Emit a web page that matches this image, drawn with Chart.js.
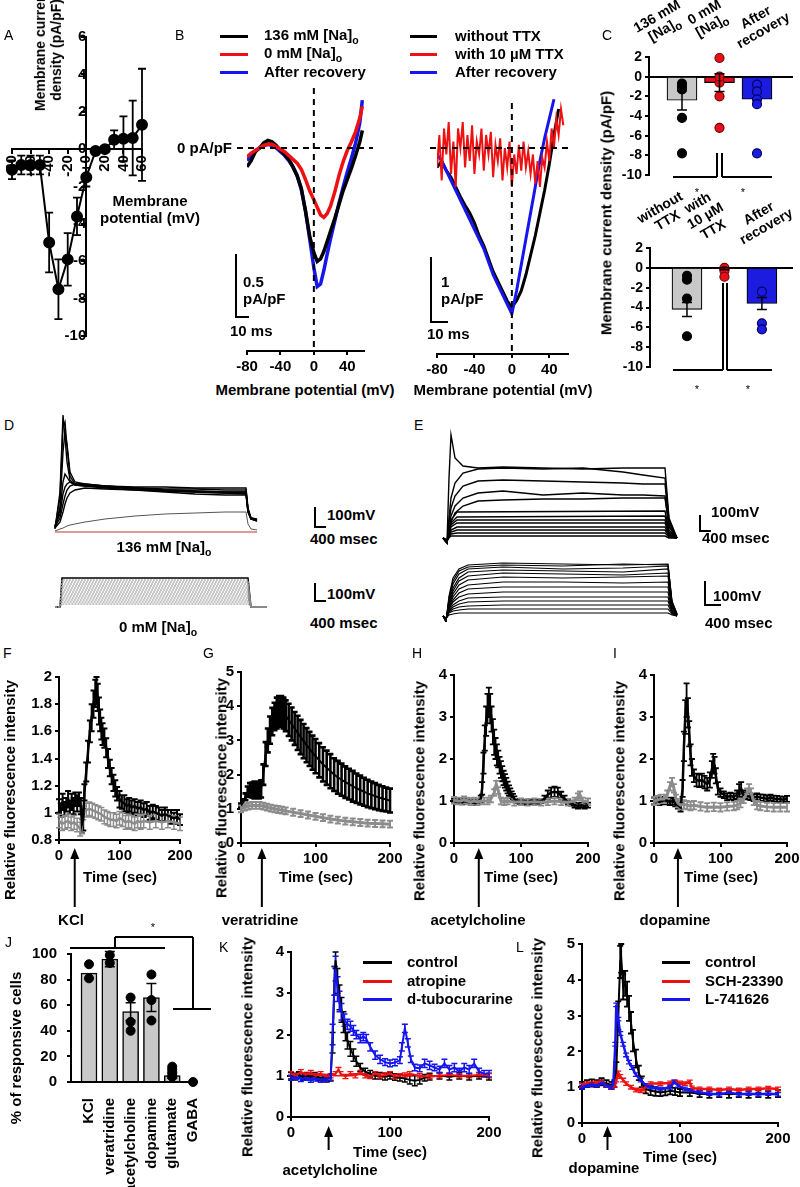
<!DOCTYPE html>
<html>
<head>
<meta charset="utf-8">
<title>Figure</title>
<script src="https://cdn.jsdelivr.net/npm/chart.js@4.4.1/dist/chart.umd.min.js"></script>
<style>
  body { margin: 0; background: #fff; }
  #fig { position: relative; width: 800px; height: 1187px; overflow: hidden; background: #fff;
         font-family: 'Liberation Sans', Arial, sans-serif; font-weight: bold; color: #000; }
  #fig canvas { position: absolute; }
  .t { position: absolute; white-space: nowrap; line-height: 1.15; }
  .t sub { font-size: 70%; }
  .ln { position: absolute; }
  .rl { position: absolute; white-space: nowrap; line-height: 1.1; text-align: center;
        font-size: 14px; transform-origin: 0 100%; transform: translate(0, -100%) rotate(-30deg); }
</style>
</head>
<body>
<div id="fig"></div>
<script>
// ---------- data ----------
// A: I-V relation
const ivV = [-80, -70, -60, -50, -40, -30, -20, -10, 0, 10, 20, 30, 40, 50, 60];
const ivMean = [-1.1, -0.85, -0.85, -0.85, -5.0, -7.5, -5.9, -3.6, -1.5, -0.1, 0.0, 0.5, 0.55, 0.6, 1.3];
const ivSem = [0.5, 0.5, 0.5, 0.5, 1.6, 1.6, 1.4, 1.0, 0.5, 0.1, 0.1, 0.5, 1.2, 2.0, 3.0];

// B: ramp currents
const bNaV = [-80, -75, -70, -65, -60, -55, -50, -45, -40, -35, -30, -25, -20, -15, -10, -5, 0, 4, 8, 12, 16, 20, 25, 30, 35, 40, 45, 50, 55, 58];
const bNa136 = [-0.15, -0.1, -0.03, 0.0, 0.04, 0.06, 0.05, 0.02, -0.02, -0.05, -0.09, -0.15, -0.22, -0.32, -0.5, -0.7, -0.83, -0.9, -0.88, -0.82, -0.74, -0.66, -0.56, -0.45, -0.34, -0.25, -0.16, -0.06, 0.05, 0.14];
const bNa0 = [-0.07, -0.04, -0.02, 0.0, 0.02, 0.03, 0.03, 0.01, -0.01, -0.03, -0.06, -0.09, -0.12, -0.17, -0.25, -0.34, -0.41, -0.47, -0.53, -0.55, -0.52, -0.46, -0.35, -0.22, -0.11, -0.02, 0.05, 0.13, 0.24, 0.33];
const bNaRec = [-0.1, -0.06, -0.02, 0.0, 0.02, 0.03, 0.02, 0.0, -0.03, -0.06, -0.1, -0.15, -0.22, -0.33, -0.5, -0.72, -0.95, -1.1, -1.08, -0.97, -0.84, -0.72, -0.58, -0.44, -0.31, -0.19, -0.08, 0.04, 0.2, 0.38];

const bTtxV = [-80, -75, -70, -65, -60, -55, -50, -45, -40, -35, -30, -25, -20, -15, -10, -5, 0, 5, 10, 15, 20, 25, 30, 35, 40, 45, 50];
const bTtxOff = [-0.3, -0.2, -0.35, -0.45, -0.6, -0.75, -0.88, -1.0, -1.15, -1.35, -1.5, -1.7, -1.9, -2.05, -2.2, -2.35, -2.45, -2.35, -2.2, -1.95, -1.65, -1.35, -1.0, -0.65, -0.25, 0.2, 0.6];
const bTtxRecV = [-80, -75, -70, -65, -60, -55, -50, -45, -40, -35, -30, -25, -20, -15, -10, -5, 0, 5, 10, 15, 20, 25, 30, 35, 40, 45];
const bTtxRec = [-0.1, -0.2, -0.35, -0.5, -0.65, -0.8, -0.95, -1.1, -1.25, -1.4, -1.55, -1.75, -1.95, -2.1, -2.25, -2.4, -2.55, -2.2, -1.8, -1.4, -1.0, -0.6, -0.2, 0.15, 0.45, 0.75];
const bTtxOnV = [-80, -77.5, -75, -72.5, -70, -67.5, -65, -62.5, -60, -57.5, -55, -52.5, -50, -47.5, -45, -42.5, -40, -37.5, -35, -32.5, -30, -27.5, -25, -22.5, -20, -17.5, -15, -12.5, -10, -7.5, -5, -2.5, 0, 2.5, 5, 7.5, 10, 12.5, 15, 17.5, 20, 22.5, 25, 27.5, 30, 32.5, 35, 37.5, 40, 42.5, 45, 47.5, 50, 52.5, 55];
const bTtxOn = [-0.3, 0.2, -0.5, 0.3, -0.1, 0.4, -0.4, 0.1, -0.6, 0.3, 0.0, 0.4, -0.3, 0.2, -0.2, 0.35, -0.4, 0.1, -0.1, 0.3, -0.35, 0.2, -0.1, 0.25, -0.45, 0.05, -0.2, 0.15, -0.5, 0.0, -0.3, 0.1, -0.6, -0.1, -0.4, 0.05, -0.35, 0.1, -0.3, -0.05, -0.4, -0.1, -0.55, -0.2, -0.6, -0.15, -0.3, 0.1, -0.2, 0.3, 0.0, 0.45, 0.2, 0.6, 0.35];

// C: peak current densities
const cNaLabels = ['136 mM<br>[Na]<sub>o</sub>', '0 mM<br>[Na]<sub>o</sub>', 'After<br>recovery'];
const cNaMean = [-2.4, -0.6, -2.3];
const cNaSem = [1.0, 0.9, 0.0];
const cNaCells = [[-0.7, -1.0, -1.3, -4.2, -7.8], [1.9, -0.6, -2.0, -5.2, 0.0], [-0.8, -1.5, -2.3, -2.8, -7.8]];
const cTtxLabels = ['without<br>TTX', 'with<br>10 µM<br>TTX', 'After<br>recovery'];
const cTtxMean = [-4.2, -0.1, -3.6];
const cTtxSem = [0.7, 0.1, 0.6];
const cTtxCells = [[-0.8, -1.2, -3.1, -6.9], [0.0, -0.3, -0.9], [-2.4, -5.6, -6.2]];

// D: voltage responses (height above baseline, arbitrary units)
const dT = [0, 5, 8, 10, 12, 15, 20, 30, 50, 80, 110, 140, 170, 191, 193, 196, 202];
const dNa136 = [
  [3, 40, 117, 95, 70, 52, 47, 46, 45, 44, 43, 43, 42, 42, 22, 13, 12],
  [4, 35, 105, 110, 85, 56, 48, 47, 46, 45, 45, 44, 44, 44, 24, 14, 13],
  [5, 25, 80, 100, 88, 60, 50, 48, 46, 44, 42, 41, 40, 40, 22, 14, 12],
  [6, 22, 50, 58, 55, 50, 47, 46, 44, 42, 40, 38, 37, 37, 20, 13, 11],
  [6, 18, 38, 45, 48, 50, 48, 47, 45, 43, 41, 40, 39, 38, 20, 13, 12],
  [5, 14, 28, 36, 42, 46, 48, 48, 46, 44, 42, 41, 40, 40, 22, 14, 12],
  [4, 10, 20, 28, 34, 39, 42, 44, 43, 42, 41, 40, 39, 39, 21, 13, 11]
];
const dNa136Slow = [1, 3, 4, 5, 6, 7, 8, 10, 13, 16, 18, 19, 20, 20, 8, 3, 2];
const dFlatT = [0, 202];
const dNa136Flat = [0, 0];
const dZeroT = [0, 5, 7, 193, 196, 212];
const dNa0 = [
  [0, 0, 29, 29, 0, 0], [0, 0, 27, 27, 0, 0], [0, 0, 25, 25, 0, 0], [0, 0, 23, 23, 0, 0],
  [0, 0, 21, 21, 0, 0], [0, 0, 19, 19, 0, 0], [0, 0, 17, 17, 0, 0], [0, 0, 15, 15, 0, 0],
  [0, 0, 13, 13, 0, 0], [0, 0, 11, 11, 0, 0], [0, 0, 9, 9, 0, 0], [0, 0, 7, 7, 0, 0],
  [0, 0, 5, 5, 0, 0], [0, 0, 3, 3, 0, 0]
];

// E
const eT = [0, 4, 6, 8, 12, 20, 35, 60, 100, 140, 180, 200, 222, 226, 234];
const eTopHigh = [
  [0, -5, 60, 103, 80, 72, 70, 71, 70, 69, 70, 70, 70, 20, 0],
  [0, -5, 20, 40, 55, 65, 69, 70, 69, 70, 66, 63, 60, 18, 0],
  [0, -5, 15, 30, 42, 52, 57, 58, 57, 56, 55, 54, 54, 15, 0],
  [0, -5, 10, 22, 32, 40, 45, 47, 43, 45, 43, 43, 42, 12, 0],
  [0, -5, 8, 16, 25, 32, 37, 38, 39, 39, 40, 40, 40, 11, 0]
];
const eT2 = [0, 4, 8, 14, 222, 226, 234];
const eTopLow = [
  [0, -4, 18, 26, 27, 8, 0], [0, -4, 15, 21, 22, 6, 0], [0, -4, 13, 18, 18, 5, 0],
  [0, -3, 11, 15, 15, 4, 0], [0, -3, 8, 11, 11, 3, 0], [0, -3, 6, 8, 8, 2, 0],
  [0, -2, 4, 5, 5, 1, 0], [0, -2, 2, 2, 2, 0, 0]
];
const eTb = [0, 3, 6, 10, 16, 25, 60, 120, 180, 225, 229, 234];
const eBottom = [
  [0, -6, 20, 38, 47, 51, 53, 52, 51, 52, 15, 2],
  [0, -6, 18, 35, 45, 49, 51, 50, 52, 51, 14, 2],
  [0, -5, 16, 32, 42, 47, 49, 47, 48, 50, 13, 2],
  [0, -5, 14, 28, 38, 44, 46, 45, 44, 47, 12, 2],
  [0, -5, 12, 25, 35, 40, 43, 42, 41, 43, 11, 1],
  [0, -4, 10, 22, 31, 36, 39, 38, 39, 40, 10, 1],
  [0, -4, 9, 19, 27, 31, 34, 34, 33, 34, 9, 1],
  [0, -4, 8, 16, 23, 27, 29, 29, 29, 29, 8, 1],
  [0, -3, 7, 14, 19, 22, 24, 24, 24, 24, 6, 1],
  [0, -3, 6, 11, 15, 18, 19, 19, 19, 19, 5, 0],
  [0, -3, 5, 9, 12, 14, 15, 15, 15, 15, 4, 0],
  [0, -2, 4, 7, 9, 10, 11, 11, 11, 11, 3, 0],
  [0, -2, 3, 5, 6, 7, 7, 7, 7, 7, 2, 0],
  [0, -2, 1, 2, 3, 3, 3, 3, 3, 3, 1, 0]
];

// F-I: [time, mean, sem]
const fKcl = [[0,1.05,.05],[3,1.02,.05],[6,1.08,.06],[9,1.03,.05],[12,1.06,.05],[15,1.1,.06],[18,1.04,.05],[21,1.08,.06],[24,1.05,.06],[27,1.1,.05],[30,1.07,.06],[33,1.1,.05],[36,1.05,.06],[38,0.92,.07],[40,0.95,.08],[42,1.15,.06],[45,1.3,.07],[48,1.45,.08],[51,1.6,.08],[54,1.7,.1],[57,1.8,.1],[60,1.88,.1],[62,1.9,.1],[64,1.85,.1],[66,1.75,.1],[68,1.68,.08],[70,1.62,.08],[72,1.58,.08],[75,1.55,.07],[78,1.48,.07],[81,1.4,.07],[84,1.33,.06],[87,1.27,.06],[90,1.22,.06],[93,1.18,.06],[96,1.14,.05],[100,1.1,.06],[104,1.08,.05],[108,1.07,.06],[112,1.05,.05],[116,1.06,.05],[120,1.04,.05],[125,1.05,.05],[130,1.03,.05],[135,1.04,.05],[140,1.02,.05],[145,1.03,.05],[150,1.0,.05],[155,1.01,.05],[160,1.0,.05],[165,0.99,.05],[170,0.98,.04],[175,0.99,.05],[180,0.98,.04],[185,0.97,.05],[190,0.96,.04],[195,0.97,.05],[200,0.95,.04]];
const fCtrl = [[0,.94],[5,.92],[10,.93],[15,.94],[20,.92],[25,.93],[30,.91],[35,.88],[38,.9],[40,1.0],[45,1.02],[50,1.03],[55,1.02],[60,1.01],[65,1.0],[70,.99],[75,.97],[80,.96],[85,.95],[90,.95],[95,.94],[100,.96],[105,.95],[110,.93],[115,.94],[120,.93],[125,.92],[130,.94],[135,.93],[140,.94],[150,.93],[160,.94],[170,.93],[180,.94],[190,.93],[200,.92]];
const fCtrlSem = 0.05;

const gVera = [[0,1.1,.05],[3,1.2,.08],[6,1.35,.1],[9,1.5,.15],[12,1.55,.2],[15,1.55,.22],[18,1.55,.25],[21,1.55,.25],[24,1.55,.25],[27,1.58,.25],[30,2.0,.3],[33,2.6,.35],[36,3.0,.35],[39,3.3,.4],[42,3.55,.4],[45,3.7,.4],[48,3.8,.45],[51,3.85,.45],[54,3.85,.45],[57,3.8,.45],[60,3.72,.45],[64,3.6,.47],[68,3.48,.48],[72,3.35,.48],[76,3.22,.5],[80,3.1,.5],[84,2.98,.5],[88,2.86,.5],[92,2.75,.5],[96,2.64,.5],[100,2.54,.5],[105,2.42,.5],[110,2.3,.5],[115,2.2,.5],[120,2.1,.5],[125,2.0,.48],[130,1.92,.48],[135,1.85,.47],[140,1.78,.46],[145,1.72,.45],[150,1.66,.45],[155,1.6,.43],[160,1.55,.42],[165,1.5,.41],[170,1.45,.4],[175,1.41,.39],[180,1.37,.38],[185,1.33,.37],[190,1.3,.36],[195,1.27,.35],[200,1.24,.35]];
const gCtrl = [[0,1.0],[5,1.05],[10,1.08],[15,1.1],[20,1.1],[25,1.1],[30,1.08],[35,1.05],[40,1.02],[45,1.0],[50,0.98],[55,0.96],[60,0.94],[70,0.9],[80,0.86],[90,0.82],[100,0.78],[110,0.74],[120,0.7],[130,0.67],[140,0.64],[150,0.62],[160,0.6],[170,0.58],[180,0.57],[190,0.56],[200,0.55]];
const gCtrlSem = 0.1;

const hAch = [[0,1.0,.05],[4,0.98,.05],[8,1.02,.05],[12,0.97,.05],[16,1.0,.05],[20,0.98,.05],[24,1.0,.05],[28,0.97,.05],[32,0.95,.05],[36,0.98,.05],[40,1.05,.08],[42,1.3,.15],[44,1.9,.25],[46,2.5,.3],[48,2.9,.35],[50,3.2,.35],[52,3.35,.35],[54,3.2,.35],[56,2.95,.3],[58,2.65,.3],[60,2.4,.3],[62,2.25,.25],[64,2.1,.25],[66,2.0,.2],[68,1.85,.2],[70,1.75,.2],[72,1.65,.18],[74,1.55,.17],[76,1.48,.16],[78,1.4,.15],[80,1.32,.14],[82,1.25,.12],[84,1.2,.1],[86,1.15,.08],[88,1.1,.07],[90,1.05,.06],[94,1.0,.05],[98,0.98,.05],[102,0.97,.05],[106,0.96,.05],[110,0.97,.05],[115,0.98,.05],[120,0.97,.05],[125,0.98,.05],[130,1.0,.05],[135,1.05,.08],[140,1.15,.1],[145,1.2,.12],[150,1.22,.12],[155,1.2,.12],[160,1.12,.1],[165,1.05,.08],[170,0.98,.06],[175,0.95,.06],[180,0.9,.06],[185,0.88,.06],[190,0.9,.06],[195,0.88,.06],[200,0.9,.06]];
const hCtrl = [[0,1.02],[5,1.0],[10,1.0],[15,1.03],[20,1.0],[25,0.98],[30,1.0],[35,0.98],[40,1.0],[45,1.0],[50,1.0],[55,1.05],[60,1.2],[63,1.4],[66,1.25],[70,1.0],[75,0.98],[80,1.0],[90,0.97],[100,0.98],[110,0.97],[120,0.98],[130,0.97],[140,0.98],[150,1.0],[160,0.98],[170,0.97],[180,1.0],[185,1.1],[188,1.15],[192,1.0],[200,0.98]];
const hCtrlSem = 0.08;

const iDop = [[0,1.0,.08],[4,1.02,.08],[8,0.98,.08],[12,1.0,.08],[16,1.02,.08],[20,1.0,.08],[24,0.98,.08],[28,1.0,.08],[32,0.95,.08],[36,0.9,.08],[40,0.85,.1],[43,1.3,.2],[45,2.3,.35],[47,3.0,.4],[49,3.4,.4],[51,3.1,.35],[53,2.6,.3],[55,2.1,.25],[57,1.8,.2],[60,1.6,.15],[64,1.5,.15],[68,1.48,.15],[72,1.5,.15],[76,1.45,.15],[80,1.4,.15],[84,1.5,.18],[87,1.75,.2],[89,1.9,.22],[91,1.85,.2],[93,1.6,.18],[96,1.3,.15],[100,1.2,.1],[105,1.15,.08],[110,1.1,.08],[115,1.12,.08],[120,1.1,.08],[125,1.15,.1],[128,1.25,.15],[131,1.3,.15],[134,1.15,.1],[140,1.12,.08],[145,1.1,.08],[150,1.08,.08],[155,1.1,.08],[160,1.08,.08],[165,1.07,.08],[170,1.05,.08],[175,1.08,.07],[180,1.06,.07],[185,1.05,.07],[190,1.04,.07],[195,1.03,.07],[200,1.05,.07]];
const iCtrl = [[0,1.0],[5,1.02],[10,1.05],[15,1.05],[20,1.15],[24,1.35],[27,1.45],[30,1.3],[33,1.05],[36,0.95],[40,0.9],[45,0.92],[50,0.9],[55,0.88],[60,0.9],[70,0.87],[80,0.85],[90,0.86],[100,0.85],[110,0.87],[120,0.88],[125,0.9],[130,0.95],[135,1.05],[140,1.2],[143,1.3],[146,1.2],[150,1.0],[155,0.9],[160,0.88],[170,0.86],[180,0.85],[190,0.85],[200,0.85]];
const iCtrlSem = 0.1;

// J: responsive cells
const jCats = ['KCl', 'veratridine', 'acetylcholine', 'dopamine', 'glutamate', 'GABA'];
const jMean = [85, 96, 55, 66, 5, 0];
const jSem = [0, 6, 7, 11, 2, 0];
const jCells = [[92, 81], [99, 93], [66, 47, 40], [84, 64, 48], [12, 10, 8, 5, 4], [0]];

// K: acetylcholine with antagonists
const kControl = [[0,1.0,.08],[4,0.98,.08],[8,1.02,.08],[12,0.97,.08],[16,1.0,.08],[20,0.98,.08],[24,1.0,.08],[28,0.96,.08],[32,0.95,.08],[36,0.93,.08],[40,0.95,.08],[42,1.8,.25],[44,3.3,.35],[45,3.8,.2],[47,3.3,.3],[49,2.9,.3],[51,2.6,.3],[53,2.3,.25],[55,2.05,.2],[57,1.85,.2],[60,1.65,.18],[63,1.5,.15],[66,1.35,.12],[70,1.2,.1],[75,1.1,.08],[80,1.05,.08],[85,1.0,.08],[90,1.0,.08],[95,0.98,.08],[100,1.0,.08],[105,0.97,.08],[110,0.95,.08],[115,0.93,.08],[120,0.9,.1],[125,0.88,.12],[130,0.9,.1],[135,0.95,.08],[140,0.98,.08],[150,1.0,.08],[160,0.98,.08],[170,1.0,.08],[180,0.98,.08],[190,1.0,.08],[200,0.98,.08]];
const kAtropine = [[0,1.05],[5,1.0],[10,1.1],[15,1.02],[20,1.08],[25,1.0],[30,1.05],[35,0.98],[40,1.0],[45,1.05],[48,1.15],[50,1.05],[55,0.98],[60,1.05],[65,1.0],[70,1.08],[75,1.0],[80,0.98],[85,1.05],[90,1.0],[95,1.02],[100,1.05],[105,0.98],[110,1.0],[115,1.02],[120,1.05],[130,1.0],[140,0.98],[150,1.0],[160,1.02],[170,1.0],[180,1.0],[190,1.02],[200,1.0]];
const kAtropineSem = 0.05;
const kTubo = [[0,0.95,.06],[5,0.97,.06],[10,0.92,.06],[15,0.95,.06],[20,0.9,.06],[25,0.93,.06],[30,0.9,.06],[35,0.92,.06],[40,0.95,.06],[42,2.0,.25],[44,3.3,.35],[45,3.6,.3],[47,3.1,.3],[49,2.8,.25],[51,2.55,.2],[54,2.35,.15],[57,2.25,.12],[60,2.2,.12],[63,2.1,.12],[66,2.0,.1],[70,1.9,.1],[73,1.95,.1],[76,1.9,.1],[80,1.7,.1],[85,1.5,.1],[90,1.4,.1],[95,1.33,.08],[100,1.3,.08],[105,1.32,.08],[110,1.38,.08],[112,1.7,.1],[115,2.15,.1],[118,1.8,.1],[121,1.4,.08],[125,1.2,.08],[130,1.18,.08],[135,1.3,.1],[140,1.25,.1],[145,1.2,.08],[150,1.15,.08],[155,1.3,.1],[160,1.15,.1],[165,1.2,.1],[170,1.1,.08],[175,1.2,.1],[180,1.15,.1],[185,1.3,.1],[190,1.1,.08],[195,1.05,.08],[200,1.05,.08]];

// L: dopamine with antagonists
const lControl = [[0,1.05,.1],[5,1.1,.1],[10,1.12,.1],[15,1.1,.1],[20,1.15,.1],[25,1.1,.1],[30,1.05,.1],[33,1.1,.1],[35,1.5,.2],[37,3.0,.4],[39,4.5,.45],[40,4.6,.4],[42,3.8,.35],[44,3.9,.35],[46,3.6,.35],[48,3.2,.35],[50,2.8,.3],[52,2.3,.3],[55,1.8,.25],[58,1.4,.2],[61,1.15,.15],[65,0.95,.12],[70,0.9,.12],[75,0.88,.12],[80,0.85,.1],[85,0.87,.1],[90,0.9,.1],[95,0.88,.1],[100,0.85,.1],[110,0.85,.1],[120,0.82,.1],[130,0.8,.1],[140,0.82,.1],[150,0.8,.1],[160,0.82,.1],[170,0.8,.1],[180,0.82,.1],[190,0.8,.1],[200,0.82,.1]];
const lSch = [[0,1.05],[5,1.1],[10,1.1],[15,1.12],[20,1.15],[25,1.05],[30,1.0],[33,1.05],[35,1.2],[37,1.4],[39,1.3],[42,1.2],[45,1.1],[50,1.0],[55,0.92],[60,0.9],[63,0.95],[66,1.05],[70,1.1],[80,1.1],[90,1.12],[95,1.15],[100,1.12],[105,1.1],[110,1.15],[112,0.98],[120,0.95],[130,0.95],[140,0.92],[150,0.95],[160,0.92],[170,0.95],[180,0.95],[190,0.97],[200,0.95]];
const lSchSem = 0.05;
const lL741 = [[0,1.0],[5,1.05],[10,1.08],[15,1.05],[20,1.12],[25,1.05],[30,1.0],[32,1.1],[34,2.2],[35,3.3],[37,2.9],[39,2.5],[42,2.2],[45,1.9],[48,1.7],[51,1.55],[55,1.35],[60,1.2],[65,1.05],[70,1.0],[80,0.95],[90,1.0],[94,1.15],[98,1.05],[105,0.95],[110,0.9],[120,0.85],[130,0.82],[140,0.8],[150,0.85],[160,0.8],[170,0.82],[180,0.8],[190,0.82],[200,0.8]];
const lL741Sem = 0.05;

// stimulus application times (sec)
const stimF = 26, stimG = 28, stimH = 37, stimI = 36, stimK = 38, stimL = 26;

// ---------- chart setup ----------
Chart.defaults.font.family = "'Liberation Sans', Arial, sans-serif";
Chart.defaults.font.weight = 'bold';
Chart.defaults.font.size = 15;
Chart.defaults.color = '#000';
Chart.defaults.animation = false;
Chart.defaults.responsive = false;
Chart.defaults.plugins.legend.display = false;
Chart.defaults.plugins.tooltip.enabled = false;
Chart.defaults.elements.point.radius = 0;
Chart.defaults.elements.line.tension = 0;

function drawErrs(chart, front) {
  const ctx = chart.ctx;
  chart.data.datasets.forEach((ds, i) => {
    if (!ds.errs || !!ds.errFront !== front) return;
    const meta = chart.getDatasetMeta(i);
    const ys = chart.scales[meta.yAxisID];
    const cap = ds.capW || 3;
    ctx.save();
    ctx.strokeStyle = ds.errColor || ds.borderColor;
    ctx.lineWidth = ds.errWidth || 1.2;
    ctx.beginPath();
    meta.data.forEach((el, j) => {
      const e = ds.errs[j];
      if (!e) return;
      const v = ds.data[j].y;
      const hi = ys.getPixelForValue(v + e), lo = ys.getPixelForValue(v - e);
      ctx.moveTo(el.x, hi); ctx.lineTo(el.x, lo);
      ctx.moveTo(el.x - cap, hi); ctx.lineTo(el.x + cap, hi);
      ctx.moveTo(el.x - cap, lo); ctx.lineTo(el.x + cap, lo);
    });
    ctx.stroke();
    ctx.restore();
  });
}
const errorBars = {
  id: 'errorBars',
  beforeDatasetsDraw(c) { drawErrs(c, false); },
  afterDatasetsDraw(c) { drawErrs(c, true); }
};

// arrow marking drug application under the time axis
const stimArrow = {
  id: 'stimArrow',
  afterDraw(chart, args, o) {
    if (o.t === undefined) return;
    const ctx = chart.ctx, x = chart.scales.x.getPixelForValue(o.t);
    const y0 = chart.chartArea.bottom + o.gap, y1 = chart.chartArea.bottom + o.len;
    ctx.save();
    ctx.strokeStyle = '#000'; ctx.fillStyle = '#000'; ctx.lineWidth = 2;
    ctx.beginPath(); ctx.moveTo(x, y1); ctx.lineTo(x, y0 + 8); ctx.stroke();
    ctx.beginPath(); ctx.moveTo(x, y0); ctx.lineTo(x - 4.5, y0 + 11); ctx.lineTo(x + 4.5, y0 + 11); ctx.closePath(); ctx.fill();
    ctx.restore();
  }
};

// dashed zero-current / zero-voltage lines in B
const refLines = {
  id: 'refLines',
  afterDatasetsDraw(chart, args, o) {
    if (!o.on) return;
    const ctx = chart.ctx, a = chart.chartArea;
    const y0 = chart.scales.y.getPixelForValue(0), x0 = chart.scales.x.getPixelForValue(0);
    ctx.save();
    ctx.setLineDash([6, 5]); ctx.lineWidth = 2; ctx.strokeStyle = '#000';
    ctx.beginPath();
    ctx.moveTo(o.hFrom, y0); ctx.lineTo(a.right + o.hExtra, y0);
    ctx.moveTo(x0, a.top + o.vTop); ctx.lineTo(x0, a.bottom);
    ctx.stroke();
    ctx.restore();
  }
};
Chart.register(errorBars, stimArrow, refLines);

const fig = document.getElementById('fig');

function place(area, sz, pad, config) {
  const c = document.createElement('canvas');
  const l = area[0] - (sz.left || 0) - pad[0];
  const t = area[1] - (sz.top || 0) - pad[1];
  const w = area[2] - area[0] + (sz.left || 0) + pad[0] + pad[2];
  const h = area[3] - area[1] + (sz.top || 0) + (sz.bottom || 0) + pad[1] + pad[3];
  c.width = w; c.height = h;
  c.style.left = l + 'px'; c.style.top = t + 'px';
  c.style.width = w + 'px'; c.style.height = h + 'px';
  fig.appendChild(c);
  config.options.layout = { padding: { left: pad[0], top: pad[1], right: pad[2], bottom: pad[3] } };
  return new Chart(c, config);
}

function T(html, x, y, size, o) {
  o = o || {};
  const d = document.createElement('div');
  d.className = 't';
  d.innerHTML = html;
  d.style.left = x + 'px';
  d.style.top = y + 'px';
  d.style.fontSize = size + 'px';
  if (o.w) d.style.fontWeight = o.w;
  if (o.ta) d.style.textAlign = o.ta;
  const ax = o.a === 'c' ? '-50%' : o.a === 'r' ? '-100%' : '0';
  d.style.transform = 'translate(' + ax + ',-50%)' + (o.rot ? ' rotate(' + o.rot + 'deg)' : '');
  fig.appendChild(d);
}

// slanted category label, anchored at its lower-left corner
function R(html, x, y) {
  const d = document.createElement('div');
  d.className = 'rl';
  d.innerHTML = html;
  d.style.left = x + 'px';
  d.style.top = y + 'px';
  fig.appendChild(d);
}

function L(x1, y1, x2, y2, color, w) {
  w = w || 2;
  const d = document.createElement('div');
  d.className = 'ln';
  d.style.background = color || '#000';
  if (y1 === y2) {
    d.style.left = Math.min(x1, x2) + 'px'; d.style.top = (y1 - w / 2) + 'px';
    d.style.width = Math.abs(x2 - x1) + 'px'; d.style.height = w + 'px';
  } else {
    d.style.left = (x1 - w / 2) + 'px'; d.style.top = Math.min(y1, y2) + 'px';
    d.style.width = w + 'px'; d.style.height = Math.abs(y2 - y1) + 'px';
  }
  fig.appendChild(d);
}

const axisGrid = { drawOnChartArea: false, tickLength: 4, color: '#000', lineWidth: 2 };
const axisBorder = { color: '#000', width: 2 };
const plainNum = v => String(+Number(v).toFixed(2));

function yLin(min, max, step, w, tickPad) {
  return {
    type: 'linear', min: min, max: max,
    ticks: { stepSize: step, padding: tickPad || 3, autoSkip: false, callback: plainNum },
    grid: axisGrid, border: axisBorder,
    afterFit: s => { s.width = w; s.paddingTop = 0; s.paddingBottom = 0; }
  };
}
function xTime(h) {
  return {
    type: 'linear', min: 0, max: 200,
    afterBuildTicks: s => { s.ticks = [0, 100, 200].map(v => ({ value: v })); },
    ticks: { minRotation: 0, maxRotation: 0, autoSkip: false, padding: 3 },
    grid: axisGrid, border: axisBorder,
    afterFit: s => { s.height = h; s.paddingLeft = 0; s.paddingRight = 0; }
  };
}
function series(arr, color, width, sem, errColor, order, errWidth) {
  return {
    type: 'line',
    data: arr.map(p => ({ x: p[0], y: p[1] })),
    errs: arr.map(p => (p.length > 2 ? p[2] : sem)),
    borderColor: color, borderWidth: width, errColor: errColor || color,
    errWidth: errWidth || 1.3, capW: 3, pointRadius: 0, order: order || 0
  };
}
function traces(tArr, rows, color, width, dash) {
  return rows.map(r => ({
    data: r.map((v, i) => ({ x: tArr[i], y: v })),
    borderColor: color, borderWidth: width, borderDash: dash || [], pointRadius: 0
  }));
}
function traceChart(area, xr, yr, datasets) {
  return place(area, {}, [0, 0, 0, 0], {
    type: 'line', data: { datasets: datasets },
    options: { scales: { x: { type: 'linear', display: false, min: xr[0], max: xr[1] },
                         y: { display: false, min: yr[0], max: yr[1] } } }
  });
}

// ---------- A ----------
place([12, 35, 152, 338], {}, [8, 10, 10, 10], {
  type: 'line',
  data: { datasets: [{
    data: ivV.map((v, i) => ({ x: v, y: ivMean[i] })),
    errs: ivSem, errFront: true, capW: 4, errWidth: 1.8, errColor: '#000',
    borderColor: '#000', borderWidth: 2, pointRadius: 5, pointBackgroundColor: '#000', clip: false
  }] },
  options: { scales: {
    x: { type: 'linear', min: -80, max: 60, position: { y: 0 },
         afterBuildTicks: s => { s.ticks = [-80, -60, -40, -20, 0, 20, 40, 60].map(v => ({ value: v })); },
         ticks: { minRotation: 90, maxRotation: 90, autoSkip: false, padding: 2, font: { size: 15 } },
         grid: axisGrid, border: axisBorder },
    y: { type: 'linear', min: -10, max: 6, position: { x: 0 },
         ticks: { stepSize: 2, padding: 3, autoSkip: false, font: { size: 15 } },
         grid: axisGrid, border: axisBorder }
  } }
});

// ---------- B ----------
// each trace: [voltages, currents, colour, draw order]
function bChart(area, yr, sets, hFrom, hExtra, vTop, lw) {
  return place(area, { bottom: 30 }, [12, 0, 12, 0], {
    type: 'line',
    data: { datasets: sets.map(s => ({
      data: s[0].map((v, i) => ({ x: v, y: s[1][i] })),
      borderColor: s[2], borderWidth: s[4] || lw, order: s[3], pointRadius: 0
    })) },
    options: {
      scales: {
        x: { type: 'linear', min: -80, max: 60,
             afterBuildTicks: s => { s.ticks = [-80, -40, 0, 40].map(v => ({ value: v })); },
             ticks: { minRotation: 0, maxRotation: 0, autoSkip: false, padding: 3 },
             grid: axisGrid, border: axisBorder,
             afterFit: s => { s.height = 30; s.paddingLeft = 0; s.paddingRight = 0; } },
        y: { display: false, min: yr[0], max: yr[1] }
      },
      plugins: { refLines: { on: true, hFrom: hFrom, hExtra: hExtra, vTop: vTop } }
    }
  });
}
bChart([247, 85, 364, 351], [-1.611, 0.5],
  [[bNaV, bNa136, '#000', 2], [bNaV, bNa0, '#ee1111', 1], [bNaV, bNaRec, '#1515ee', 3]], 2, 9, 3, 3.5);
bChart([437, 85, 568, 354], [-3.169, 0.969],
  [[bTtxV, bTtxOff, '#000', 3], [bTtxOnV, bTtxOn, '#ee1111', 1, 2], [bTtxRecV, bTtxRec, '#1515ee', 2]], 5, 0, 18, 3);

// ---------- C ----------
function cChart(area, xr, means, sems, cells) {
  const colors = ['#c8c8c8', '#e5101a', '#1c1ce0'];
  const dots = ['#000', '#e5101a', '#1c1ce0'];
  const edges = ['#000', '#7a0000', '#000060'];
  const sets = cells.map((g, i) => ({
    type: 'scatter', data: g.map(v => ({ x: i + 1, y: v })),
    pointRadius: 4.5, pointBackgroundColor: dots[i], pointBorderColor: edges[i], pointBorderWidth: 1.2,
    order: 1, clip: false
  }));
  sets.push({
    type: 'bar', data: means.map((m, i) => ({ x: i + 1, y: m })),
    backgroundColor: colors, borderColor: '#000', borderWidth: 1.2, barThickness: 30,
    errs: sems, errFront: true, errColor: '#000', errWidth: 1.5, capW: 5, order: 2
  });
  return place(area, { left: 40 }, [0, 12, 6, 12], {
    type: 'bar', data: { datasets: sets },
    options: { scales: {
      x: { type: 'linear', display: false, min: xr[0], max: xr[1], offset: false },
      y: { type: 'linear', min: -10, max: 2,
           ticks: { stepSize: 2, padding: 3, autoSkip: false, font: { size: 14 } },
           grid: { color: c => (c.tick && c.tick.value === 0 ? '#000' : 'rgba(0,0,0,0)'), tickColor: '#000', tickLength: 4, lineWidth: 2 },
           border: axisBorder,
           afterFit: s => { s.width = 40; s.paddingTop = 0; s.paddingBottom = 0; } }
    } }
  });
}
cChart([649, 57, 793, 175], [0.12, 3.96], cNaMean, cNaSem, cNaCells);
cChart([650, 248, 793, 367], [0.013, 3.83], cTtxMean, cTtxSem, cTtxCells);

// ---------- D ----------
traceChart([50, 405, 262, 540], [-5, 207], [-8, 127], [].concat(
  traces(dFlatT, [dNa136Flat], '#c03030', 1),
  traces(dT, [dNa136Slow], '#555', 1),
  traces(dT, dNa136, '#000', 1.4)
));
traceChart([50, 570, 272, 612], [-5, 217], [-5, 37], [].concat(
  traces(dZeroT, dNa0.slice(1), '#8a8a8a', 1, [2, 1]),
  traces(dZeroT, dNa0.slice(0, 1), '#000', 1.5)
));

// ---------- E ----------
traceChart([438, 428, 682, 548], [-5, 239], [-10, 110], [].concat(
  traces(eT, eTopHigh, '#000', 1.4),
  traces(eT2, eTopLow, '#000', 1.4)
));
traceChart([435, 555, 682, 622], [-8, 239], [-6, 61], traces(eTb, eBottom, '#000', 1.2));

// ---------- F-I ----------
function timeChart(area, wY, hX, yr, step, sets, stim, arrowGap, arrowLen, padB) {
  return place(area, { left: wY, bottom: hX }, [1, 12, 14, padB], {
    type: 'line', data: { datasets: sets },
    options: {
      scales: { x: xTime(hX), y: yLin(yr[0], yr[1], step, wY) },
      plugins: { stimArrow: { t: stim, gap: arrowGap, len: arrowLen } }
    }
  });
}
const gray = '#8c8c8c';
timeChart([59, 677, 180, 840], 58, 46, [0.8, 2], 0.2,
  [series(fKcl, '#000', 2.5, 0, '#000', 1, 2), series(fCtrl, gray, 2.5, fCtrlSem, gray, 2, 1.5)], stimF, 8, 67, 30);
timeChart([241, 672, 390, 843], 29, 43, [0, 5], 1,
  [series(gVera, '#000', 2, 0, '#000', 1, 2.6), series(gCtrl, gray, 3, gCtrlSem, gray, 2, 2)], stimG, 5, 64, 30);
timeChart([454, 675, 588, 843], 44, 43, [0, 4], 1,
  [series(hAch, '#000', 2.5, 0, '#000', 2, 1.8), series(hCtrl, gray, 3, hCtrlSem, gray, 1, 1.8)], stimH, 5, 64, 30);
timeChart([654, 675, 787, 843], 44, 43, [0, 4], 1,
  [series(iDop, '#000', 2.5, 0, '#000', 2, 1.8), series(iCtrl, gray, 3, iCtrlSem, gray, 1, 1.8)], stimI, 5, 64, 30);

// ---------- J ----------
place([71, 954, 197, 1082], { left: 64, bottom: 105 }, [1, 12, 8, 0], {
  type: 'bar',
  data: { datasets: jCells.map((g, i) => ({
      type: 'scatter', data: g.map(v => ({ x: i + 1, y: v })),
      pointRadius: 4.5, pointBackgroundColor: '#000', pointBorderColor: '#000', order: 1, clip: false
    })).concat([{
      type: 'bar', data: jMean.map((m, i) => ({ x: i + 1, y: m })),
      backgroundColor: '#c8c8c8', borderColor: '#000', borderWidth: 1.5, barThickness: 16,
      errs: jSem, errFront: true, errColor: '#000', errWidth: 1.5, capW: 5, order: 2
    }]) },
  options: { scales: {
    x: { type: 'linear', min: 0.135, max: 6.19, offset: false,
         afterBuildTicks: s => { s.ticks = [1, 2, 3, 4, 5, 6].map(v => ({ value: v })); },
         ticks: { callback: v => jCats[v - 1], minRotation: 90, maxRotation: 90, autoSkip: false, padding: 8 },
         grid: { display: false }, border: axisBorder,
         afterFit: s => { s.height = 105; s.paddingLeft = 0; s.paddingRight = 0; } },
    y: yLin(0, 100, 20, 64, 10)
  } }
});

// ---------- K, L ----------
timeChart([291, 952, 489, 1117], 53, 44, [0, 4], 1,
  [series(kControl, '#000', 2, 0, '#000', 2, 1.5), series(kAtropine, '#ee1111', 2, kAtropineSem, '#ee1111', 1),
   series(kTubo, '#1515ee', 2, 0, '#1515ee', 0, 1.5)], stimK, 9, 33, 10);
timeChart([582, 944, 778, 1123], 54, 43, [0, 5], 1,
  [series(lControl, '#000', 2, 0, '#000', 2, 1.8), series(lSch, '#ee1111', 2.5, lSchSem, '#ee1111', 1),
   series(lL741, '#1515ee', 2.5, lL741Sem, '#1515ee', 0)], stimL, 3, 27, 10);

// ---------- text, scale bars, brackets ----------
const pl = { w: 'normal' };
T('A', 4, 35, 14, pl); T('B', 175, 35, 14, pl); T('C', 602, 35, 14, pl);
T('D', 4, 425, 14, pl); T('E', 414, 425, 14, pl);
T('F', 3, 653, 14, pl); T('G', 203, 653, 14, pl); T('H', 412, 653, 14, pl); T('I', 613, 653, 14, pl);
T('J', 5, 942, 14, pl); T('K', 219, 947, 14, pl); T('L', 516, 947, 14, pl);

T('Membrane current<br>density (pA/pF)', 48, 50, 14, { a: 'c', rot: -90, ta: 'center' });
T('Membrane<br>potential (mV)', 150, 209, 15, { a: 'c', ta: 'center' });

T('0 pA/pF', 232, 148, 15, { a: 'r' });
L(220, 36, 248, 36, '#000', 3); T('136 mM [Na]<sub>o</sub>', 264, 36, 15);
L(220, 54, 248, 54, '#ee1111', 3); T('0 mM [Na]<sub>o</sub>', 264, 54, 15);
L(220, 72, 248, 72, '#1515ee', 3); T('After recovery', 264, 72, 15);
L(410, 36, 437, 36, '#000', 3); T('without TTX', 455, 36, 15);
L(410, 54, 437, 54, '#ee1111', 3); T('with 10 µM TTX', 455, 54, 15);
L(410, 72, 437, 72, '#1515ee', 3); T('After recovery', 455, 72, 15);
L(236, 254, 236, 318); L(235, 317, 249, 317);
T('0.5<br>pA/pF', 243, 290, 15); T('10 ms', 230, 331, 15);
L(431, 257, 431, 323); L(430, 322, 448, 322);
T('1<br>pA/pF', 441, 290, 15); T('10 ms', 427, 334, 15);
T('Membrane potential (mV)', 305, 390, 15, { a: 'c' });
T('Membrane potential (mV)', 503, 390, 15, { a: 'c' });

T('Membrane current density (pA/pF)', 606, 213, 15, { a: 'c', rot: -90 });
R(cNaLabels[0], 648, 52); R(cNaLabels[1], 702, 44); R(cNaLabels[2], 742, 52);
R(cTtxLabels[0], 650, 240); R(cTtxLabels[1], 700, 246); R(cTtxLabels[2], 745, 248);
L(673, 177, 717, 177, '#000', 1.5); L(717, 153, 717, 177, '#000', 1.5);
L(722, 153, 722, 177, '#000', 1.5); L(722, 177, 772, 177, '#000', 1.5);
T('*', 697, 192, 11, { a: 'c', w: 'normal' }); T('*', 743, 192, 11, { a: 'c', w: 'normal' });
L(673, 370, 723, 370, '#000', 1.5); L(723, 283, 723, 370, '#000', 1.5);
L(727, 283, 727, 370, '#000', 1.5); L(727, 370, 772, 370, '#000', 1.5);
T('*', 697, 389, 11, { a: 'c', w: 'normal' }); T('*', 748, 389, 11, { a: 'c', w: 'normal' });

T('136 mM [Na]<sub>o</sub>', 164, 548, 15, { a: 'c' });
T('0 mM [Na]<sub>o</sub>', 158, 628, 15, { a: 'c' });
L(315, 507, 315, 528); L(314, 527, 326, 527);
T('100mV', 327, 515, 15); T('400 msec', 310, 539, 15);
L(315, 583, 315, 602); L(314, 601, 326, 601);
T('100mV', 327, 594, 15); T('400 msec', 310, 623, 15);
L(700, 515, 700, 532); L(699, 531, 711, 531);
T('100mV', 711, 512, 15); T('400 msec', 702, 538, 15);
L(705, 581, 705, 606); L(704, 605, 721, 605);
T('100mV', 713, 596, 15); T('400 msec', 705, 623, 15);

const rfi = 'Relative fluorescence intensity';
T(rfi, 10, 790, 15, { a: 'c', rot: -90 });
T(rfi, 221, 788, 15, { a: 'c', rot: -90 });
T(rfi, 419, 791, 15, { a: 'c', rot: -90 });
T(rfi, 619, 791, 15, { a: 'c', rot: -90 });
T(rfi, 247, 1047, 15, { a: 'c', rot: -90 });
T(rfi, 537, 1048, 15, { a: 'c', rot: -90 });
T('% of responsive cells', 16, 1048, 15, { a: 'c', rot: -90 });
T('Time (sec)', 120, 877, 15, { a: 'c' });
T('Time (sec)', 316, 877, 15, { a: 'c' });
T('Time (sec)', 521, 877, 15, { a: 'c' });
T('Time (sec)', 721, 877, 15, { a: 'c' });
T('Time (sec)', 390, 1152, 15, { a: 'c' });
T('Time (sec)', 680, 1157, 15, { a: 'c' });

T('KCl', 71, 920, 15, { a: 'c' });
T('veratridine', 260, 920, 15, { a: 'c' });
T('acetylcholine', 478, 920, 15, { a: 'c' });
T('dopamine', 675, 920, 15, { a: 'c' });
T('acetylcholine', 330, 1170, 15, { a: 'c' });
T('dopamine', 604, 1168, 15, { a: 'c' });

L(70, 948, 165, 948, '#000', 1.5); L(115, 937, 115, 948, '#000', 1.5);
L(115, 937, 193, 937, '#000', 1.5); L(193, 937, 193, 1009, '#000', 1.5);
L(173, 1009, 211, 1009, '#000', 1.5);
T('*', 153, 927, 11, { a: 'c', w: 'normal' });

L(363, 962, 392, 962, '#000', 3); T('control', 407, 962, 15);
L(363, 981, 392, 981, '#ee1111', 3); T('atropine', 407, 981, 15);
L(363, 999, 392, 999, '#1515ee', 3); T('d-tubocurarine', 407, 999, 15);
L(662, 962, 690, 962, '#000', 3); T('control', 705, 962, 15);
L(662, 981, 690, 981, '#ee1111', 3); T('SCH-23390', 705, 981, 15);
L(662, 999, 690, 999, '#1515ee', 3); T('L-741626', 705, 999, 15);
</script>
</body>
</html>
